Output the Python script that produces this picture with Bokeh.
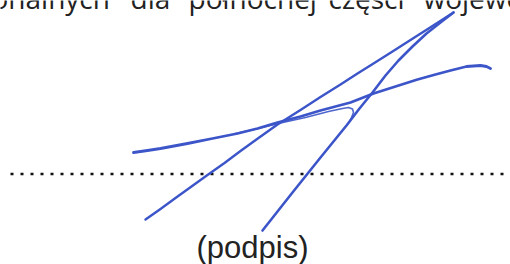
from bokeh.plotting import figure
from bokeh.models import Range1d
from bokeh.core.properties import value
from bokeh.embed import file_html
from bokeh.resources import INLINE

# --- data (reference pixel coordinates) ---
long_x = [145, 160, 175, 191, 207, 224, 240, 258, 277, 300, 320, 340, 357, 373, 392, 410, 432, 453]
long_y = [219, 208.5, 197.5, 186, 174.5, 162.5, 150.5, 137.5, 124, 109.5, 96.5, 84, 73, 63, 51, 39.5, 25.5, 12]

desc_x = [453, 440, 426, 412, 398, 385, 372, 359, 346, 333, 320, 308, 292, 277, 262]
desc_y = [12, 22, 33, 46, 60, 75, 92, 108, 125, 141, 157, 172, 192, 211, 230]

curve_x = [133, 147, 160, 187, 212, 237, 257, 277, 300, 320, 350, 373, 395, 417, 435, 450, 466, 480, 486, 490]
curve_y = [152, 150, 148, 143, 138, 133, 128, 122, 116, 110, 102, 93, 86, 79, 74, 70, 66, 65, 66, 68]

hook_x = [235, 258, 280, 305, 328, 342, 348, 352, 353, 351, 349]
hook_y = [133, 128, 122.5, 117, 111, 108, 107, 108.5, 112, 117, 121]

rule_x = [10, 510]
rule_y = [173.5, 173.5]

# justified header line (words placed where they sit in the scan)
header_words = ["onalnych", "dla", "północnej", "części", "województwa"]
header_x = [-9, 130, 188, 328, 423]
caption_text = ["(podpis)"]

INK = "#3c55c9"

W, H = 510, 264
p = figure(width=W, height=H, output_backend="svg", toolbar_location=None,
           x_range=Range1d(0, W), y_range=Range1d(H, 0),
           x_axis_location=None, y_axis_location=None, min_border=0,
           background_fill_color="white", border_fill_color="white")
p.grid.visible = False
p.outline_line_color = None

# dotted rule
p.line(rule_x, rule_y, line_color="#111111", line_width=2.5, line_dash="3 7",
       line_cap="butt")

# signature strokes
p.line(curve_x, curve_y, line_color=INK, line_width=2.8, line_cap="round", line_join="round")
p.line(hook_x, hook_y, line_color=INK, line_width=1.6, line_cap="round", line_join="round", line_alpha=0.9)
p.line(long_x, long_y, line_color=INK, line_width=2.4, line_cap="round", line_join="round")
p.line(desc_x, desc_y, line_color=INK, line_width=2.6, line_cap="round", line_join="round")

# texts (y values compensate for the renderer's baseline shift)
p.text(x=header_x, y=[-2.5] * len(header_words), text=header_words,
       text_font=value("Open Sans"), text_font_size="28px", text_color="#222222",
       text_baseline="alphabetic", text_align="left")
p.text(x=[252], y=[247], text=caption_text, text_font=value("Liberation Sans"),
       text_font_size="31px", text_color="#222222", text_baseline="alphabetic",
       text_align="center")

open("out.html", "w").write(file_html(p, INLINE))
